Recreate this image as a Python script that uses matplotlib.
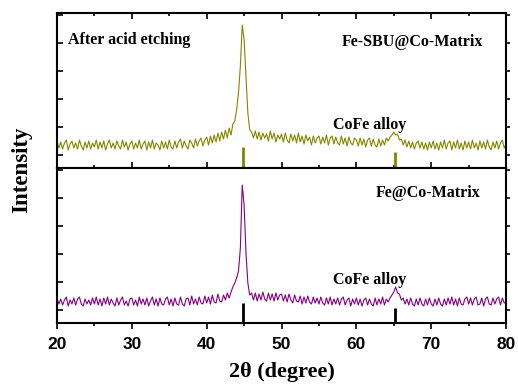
import numpy as np
import matplotlib.pyplot as plt
from matplotlib.ticker import MultipleLocator, NullFormatter

# 2theta grid, 0.25 deg steps from 20 to 80
two_theta = np.arange(241) * 0.25 + 20

# Fe-SBU@Co-Matrix (after acid etching), arbitrary units
etched = [
    27, 20, 26, 19, 25, 28, 18, 24, 27, 20, 25, 19, 28, 22, 18, 26, 20, 27, 19, 25,
    21, 28, 19, 26, 20, 27, 18, 24, 28, 20, 25, 19, 27, 22, 19, 28, 21, 26, 18, 24,
    27, 19, 25, 20, 28, 19, 24, 27, 18, 26, 20, 28, 19, 25, 23, 18, 27, 20, 26, 19,
    28, 21, 19, 27, 20, 26, 29, 20, 27, 22, 19, 28, 25, 20, 29, 22, 27, 30, 22, 28,
    31, 23, 32, 25, 33, 26, 35, 27, 36, 29, 38, 30, 40, 33, 44, 47, 58, 75, 102, 143,
    128, 92, 55, 38, 36, 30, 37, 29, 36, 28, 35, 30, 34, 27, 37, 29, 35, 26, 33, 29,
    34, 26, 35, 28, 25, 34, 27, 33, 25, 35, 26, 32, 24, 33, 27, 31, 23, 32, 25, 30,
    32, 24, 31, 25, 33, 23, 30, 32, 24, 31, 25, 23, 32, 24, 30, 22, 31, 25, 23, 30,
    28, 22, 30, 23, 29, 21, 28, 30, 22, 29, 23, 21, 29, 22, 28, 23, 30, 27, 31, 33,
    36, 33, 34, 28, 29, 23, 28, 21, 27, 20, 26, 19, 25, 27, 20, 26, 19, 25, 18, 26,
    20, 27, 19, 25, 18, 26, 20, 28, 19, 25, 27, 18, 26, 20, 28, 19, 25, 18, 27, 20,
    26, 19, 28, 20, 25, 18, 27, 20, 26, 19, 28, 21, 18, 26, 20, 27, 19, 25, 28, 20,
    24,
]

# Fe@Co-Matrix
pristine = [
    25, 19, 24, 18, 23, 26, 17, 23, 19, 25, 18, 24, 26, 19, 17, 24, 19, 23, 18, 25,
    19, 26, 18, 24, 17, 25, 19, 26, 18, 24, 20, 17, 25, 18, 23, 26, 18, 22, 17, 24,
    25, 18, 23, 17, 26, 19, 24, 18, 25, 17, 22, 26, 18, 24, 17, 25, 19, 18, 24, 26,
    18, 24, 17, 25, 19, 18, 26, 19, 17, 24, 25, 18, 27, 19, 24, 18, 26, 20, 19, 27,
    20, 26, 19, 28, 21, 20, 29, 22, 21, 28, 23, 30, 25, 31, 36, 40, 45, 52, 75, 138,
    118, 70, 40, 28, 30, 23, 30, 22, 29, 23, 31, 24, 22, 30, 23, 29, 22, 30, 23, 28,
    29, 22, 28, 21, 29, 23, 20, 28, 22, 21, 27, 19, 26, 20, 27, 21, 19, 26, 20, 25,
    19, 26, 20, 18, 25, 19, 26, 18, 24, 19, 25, 18, 24, 26, 18, 23, 25, 17, 24, 19,
    25, 18, 24, 17, 23, 25, 18, 24, 19, 17, 25, 18, 24, 19, 26, 18, 24, 21, 25, 28,
    31, 36, 30, 29, 23, 25, 19, 24, 18, 25, 19, 17, 24, 18, 25, 19, 17, 24, 18, 25,
    19, 17, 24, 18, 25, 19, 17, 24, 18, 25, 19, 26, 18, 24, 17, 25, 19, 18, 24, 26,
    19, 25, 18, 24, 26, 18, 19, 25, 17, 24, 26, 19, 18, 25, 19, 24, 26, 18, 25, 20,
    21,
]

# CoFe alloy reference positions and stick heights
ref_pos = [44.8, 65.2]
ref_top = [21, 16]
ref_bot = [20, 15]

olive = "#858500"
purple = "#850085"
serif = "Liberation Serif"
sans = "Liberation Sans"

fig = plt.figure(figsize=(5.18, 3.85), dpi=100)
ax1 = fig.add_axes([0.110, 0.5636, 0.867, 0.4026])
ax2 = fig.add_axes([0.110, 0.161, 0.867, 0.4026])

ax1.plot(two_theta, etched, color=olive, lw=0.8)
ax1.vlines(ref_pos, 0, ref_top, color=olive, lw=2)
ax2.plot(two_theta, pristine, color=purple, lw=0.8)
ax2.vlines(ref_pos, 0, ref_bot, color="black", lw=2)

yt = [13, 41, 69, 97, 125, 153]
for ax in (ax1, ax2):
    ax.set_xlim(20, 80)
    ax.set_ylim(0, 155)
    ax.xaxis.set_major_locator(MultipleLocator(10))
    ax.xaxis.set_minor_locator(MultipleLocator(5))
    ax.set_yticks(yt)
    ax.yaxis.set_major_formatter(NullFormatter())
    ax.tick_params(which="both", direction="in", width=1.2)
    ax.tick_params(which="major", length=4)
    ax.tick_params(which="minor", length=2.5)
    for s in ax.spines.values():
        s.set_linewidth(1.5)
    # right side ticks point outward
    rt = ax.twinx()
    rt.set_ylim(0, 155)
    rt.set_yticks(yt)
    rt.yaxis.set_major_formatter(NullFormatter())
    rt.tick_params(direction="out", length=3, width=1.2)
    for s in rt.spines.values():
        s.set_visible(False)

ax1.tick_params(axis="x", which="both", top=True)
ax1.xaxis.set_major_formatter(NullFormatter())
ax2.tick_params(axis="x", which="both", direction="out", labelsize=12.5, pad=6)
for lab in ax2.get_xticklabels():
    lab.set_fontfamily(sans)
    lab.set_fontweight("bold")

tkw = dict(fontfamily=serif, fontweight="bold", fontsize=11.5)
ax1.text(21.5, 128, "After acid etching", ha="left", va="center", **tkw)
ax1.text(76.9, 126, "Fe-SBU@Co-Matrix", ha="right", va="center", **tkw)
ax1.text(61.8, 43, "CoFe alloy", ha="center", va="center", **tkw)
ax2.text(76.6, 130, "Fe@Co-Matrix", ha="right", va="center", **tkw)
ax2.text(61.8, 43, "CoFe alloy", ha="center", va="center", **tkw)

ax2.set_xlabel("2θ (degree)", fontfamily=serif, fontweight="bold", fontsize=16, labelpad=7)
fig.text(0.042, 0.558, "Intensity", rotation=90, ha="center", va="center",
         fontfamily=serif, fontweight="bold", fontsize=16.5)

fig.savefig("out.png", dpi=100)
